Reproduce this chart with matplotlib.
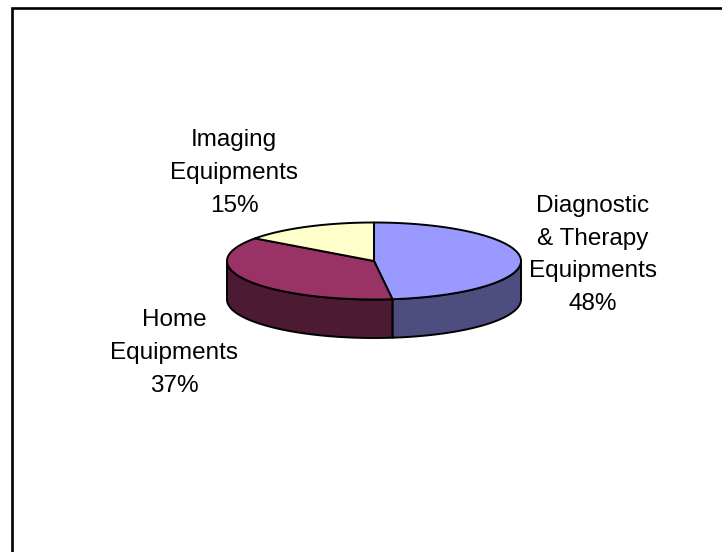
import numpy as np
import matplotlib.pyplot as plt
from matplotlib.patches import Polygon

# pie data (percent of market)
labels = ["Diagnostic\n& Therapy\nEquipments", "Home\nEquipments", "Imaging\nEquipments"]
shares = [48, 37, 15]
top_colors = ["#9999FF", "#993366", "#FFFFCC"]
side_colors = ["#4D4D80", "#4D1A33", "#80805F"]

# layout in pixel coordinates (y grows downwards)
cx, cy = 374, 261
rx, ry = 147, 38.5
depth = 38.5
label_pos = [(593, 255), (174, 353), (234, 173)]


def ellipse_pts(t1, t2, n=120):
    t = np.radians(np.linspace(t1, t2, n))
    return cx + rx * np.cos(t), cy - ry * np.sin(t)


def plot():
    fig = plt.figure(figsize=(7.22, 5.52), dpi=100)
    ax = fig.add_axes([0, 0, 1, 1])
    ax.set_xlim(0, 722)
    ax.set_ylim(552, 0)
    ax.axis("off")

    # chart area border (only left and top edges fall inside the picture)
    ax.plot([11.5, 11.5, 722], [552, 7.5, 7.5], color="black", lw=1.9,
            solid_joinstyle="miter")

    total = float(sum(shares))
    start = 90.0
    angles = []
    for s in shares:
        end = start - 360.0 * s / total
        angles.append((start, end))
        start = end

    # sides: only the front half (angles between -180 and 0) is visible
    for (a1, a2), col in zip(angles, side_colors):
        lo, hi = min(a1, a2), max(a1, a2)
        lo, hi = max(lo, -180.0), min(hi, 0.0)
        if hi <= lo:
            continue
        x, y = ellipse_pts(lo, hi)
        pts = np.column_stack([np.r_[x, x[::-1]], np.r_[y, y[::-1] + depth]])
        ax.add_patch(Polygon(pts, closed=True, fc=col, ec="black", lw=1.4,
                             joinstyle="round"))

    # top faces
    for (a1, a2), col in zip(angles, top_colors):
        x, y = ellipse_pts(a1, a2)
        pts = np.column_stack([np.r_[cx, x], np.r_[cy, y]])
        ax.add_patch(Polygon(pts, closed=True, fc=col, ec="black", lw=1.4,
                             joinstyle="round"))

    for lab, s, (lx, ly) in zip(labels, shares, label_pos):
        ax.text(lx, ly, f"{lab}\n{s}%", ha="center", va="center",
                fontsize=17.5, family="Liberation Sans", linespacing=1.63)

    fig.savefig("out.png", dpi=100, facecolor="white")


if __name__ == "__main__":
    plot()
